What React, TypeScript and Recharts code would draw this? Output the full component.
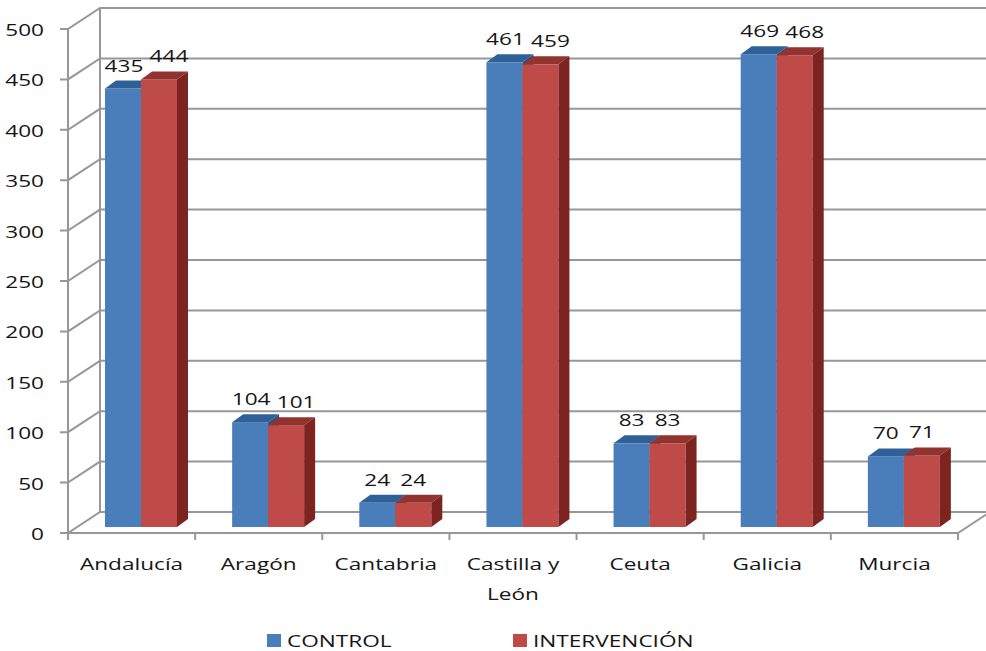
import React from "react";
import {
  BarChart,
  Bar,
  XAxis,
  YAxis,
  CartesianGrid,
  ReferenceLine,
  LabelList,
  Legend,
} from "recharts";

const regions = ["Andalucía", "Aragón", "Cantabria", "Castilla y León", "Ceuta", "Galicia", "Murcia"];
const control = [435, 104, 24, 461, 83, 469, 70];
const intervencion = [444, 101, 24, 459, 83, 468, 71];
const yTicks = [0, 50, 100, 150, 200, 250, 300, 350, 400, 450, 500];

const data = regions.map((name, i) => ({
  name,
  control: control[i],
  intervencion: intervencion[i],
}));

const W = 986;
const H = 651;
const margin = { top: 23, right: 19, bottom: 64, left: 0 };

// pseudo-3D geometry: bars sit mid-depth, front plane and back wall are offset
const FRONT = { dx: -9, dy: 6 };
const BACK = { dx: 23, dy: -15 };
const DEPTH = { dx: 11, dy: 8 };

const FONT = "'Open Sans', sans-serif";
const TEXT = "#161616";
const GRID = "#979797";
const STRETCH = 1.33;

const COLORS = {
  control: { front: "#4a7ebb", top: "#2f6097", side: "#2b5283" },
  intervencion: { front: "#be4b48", top: "#923330", side: "#7d2421" },
};

const box = (c: { front: string; top: string; side: string }) => (p: any) => {
  const { x, y, width: w, height: h } = p;
  if (!h || h <= 0) return <g />;
  const { dx, dy } = DEPTH;
  return (
    <g>
      <rect x={x} y={y} width={w} height={h} fill={c.front} />
      <path d={`M${x},${y}L${x + dx},${y - dy}H${x + w + dx}L${x + w},${y}Z`} fill={c.top} />
      <path
        d={`M${x + w},${y}L${x + w + dx},${y - dy}V${y + h - dy}L${x + w},${y + h}Z`}
        fill={c.side}
      />
    </g>
  );
};

const gridLine = (p: any) => {
  const fx = p.x1 + FRONT.dx;
  const fy = p.y1 + FRONT.dy;
  const bx = p.x1 + BACK.dx;
  const by = p.y1 + BACK.dy;
  return (
    <path
      key={`grid-${p.index}`}
      d={`M${fx - 8},${fy}H${fx}L${bx},${by}H${W}`}
      stroke={GRID}
      strokeWidth={2}
      fill="none"
    />
  );
};

// front floor edge, category separators and the two vertical wall edges
const FloorShape = (p: any) => {
  const fx1 = p.x1 + FRONT.dx;
  const fx2 = p.x2 + FRONT.dx;
  const fy = p.y1 + FRONT.dy;
  const topF = margin.top + FRONT.dy;
  const topB = margin.top + BACK.dy;
  const step = (fx2 - fx1) / regions.length;
  const ticks = regions.map((_, i) => fx1 + step * i).concat(fx2);
  return (
    <g stroke={GRID} strokeWidth={2} fill="none">
      <path d={`M${fx1},${topF}V${fy}`} />
      <path d={`M${p.x1 + BACK.dx},${topB}V${p.y1 + BACK.dy}`} />
      <path d={`M${fx1},${fy}H${fx2}L${p.x2 + BACK.dx},${p.y1 + BACK.dy}`} />
      {ticks.map((t, i) => (
        <path key={i} d={`M${t},${fy}V${fy + 7}`} />
      ))}
    </g>
  );
};

const YTick = (p: any) => (
  <text
    transform={`translate(44,${p.y + FRONT.dy + 7}) scale(${STRETCH},1)`}
    textAnchor="end"
    fontFamily={FONT}
    fontSize={17}
    fill={TEXT}
  >
    {p.payload.value}
  </text>
);

const XTick = (p: any) => {
  const label: string = p.payload.value;
  const cut = label.lastIndexOf(" ");
  const lines = label.length > 12 ? [label.slice(0, cut), label.slice(cut + 1)] : [label];
  return (
    <g>
      {lines.map((ln, i) => (
        <text
          key={i}
          transform={`translate(${p.x + FRONT.dx},${570 + i * 30}) scale(${STRETCH},1)`}
          textAnchor="middle"
          fontFamily={FONT}
          fontSize={17}
          fill={TEXT}
        >
          {ln}
        </text>
      ))}
    </g>
  );
};

// wide (3-digit) labels get nudged apart so neighbouring values don't collide
const valueLabel = (nudge: number) => (p: any) => {
  const shift = String(p.value).length > 2 ? nudge : 0;
  return (
    <text
      transform={`translate(${p.x + p.width / 2 + shift},${p.y - 17}) scale(${STRETCH},1)`}
      textAnchor="middle"
      fontFamily={FONT}
      fontSize={17}
      fill={TEXT}
    >
      {p.value}
    </text>
  );
};

const LegendContent = (p: any) => (
  <div style={{ display: "flex", paddingLeft: 267, fontFamily: FONT, fontSize: 17, color: TEXT }}>
    {(p.payload || []).map((item: any) => (
      <div key={item.value} style={{ width: 246, display: "flex", alignItems: "center" }}>
        <span style={{ width: 14, height: 13, background: item.color, display: "inline-block", marginRight: 6 }} />
        <span style={{ display: "inline-block", transform: `scaleX(${STRETCH})`, transformOrigin: "left center" }}>
          {item.value}
        </span>
      </div>
    ))}
  </div>
);

export default function App() {
  return (
    <div style={{ position: "absolute", left: 0, top: 0, width: W, height: H, background: "#fff" }}>
      <BarChart width={W} height={H} data={data} margin={margin} barGap={0} barSize={36}>
        <CartesianGrid vertical={false} horizontal={gridLine} />
        <ReferenceLine y={0} shape={FloorShape} />
        <XAxis dataKey="name" interval={0} height={60} axisLine={false} tickLine={false} tick={XTick} />
        <YAxis
          domain={[0, 500]}
          ticks={yTicks}
          width={77}
          axisLine={false}
          tickLine={false}
          tick={YTick}
        />
        <Legend
          verticalAlign="middle"
          align="center"
          wrapperStyle={{ top: 629, left: 0, width: W }}
          content={LegendContent}
        />
        <Bar dataKey="control" name="CONTROL" fill={COLORS.control.front} shape={box(COLORS.control)} isAnimationActive={false}>
          <LabelList dataKey="control" content={valueLabel(1)} />
        </Bar>
        <Bar
          dataKey="intervencion"
          name="INTERVENCIÓN"
          fill={COLORS.intervencion.front}
          shape={box(COLORS.intervencion)}
          isAnimationActive={false}
        >
          <LabelList dataKey="intervencion" content={valueLabel(10)} />
        </Bar>
      </BarChart>
    </div>
  );
}
